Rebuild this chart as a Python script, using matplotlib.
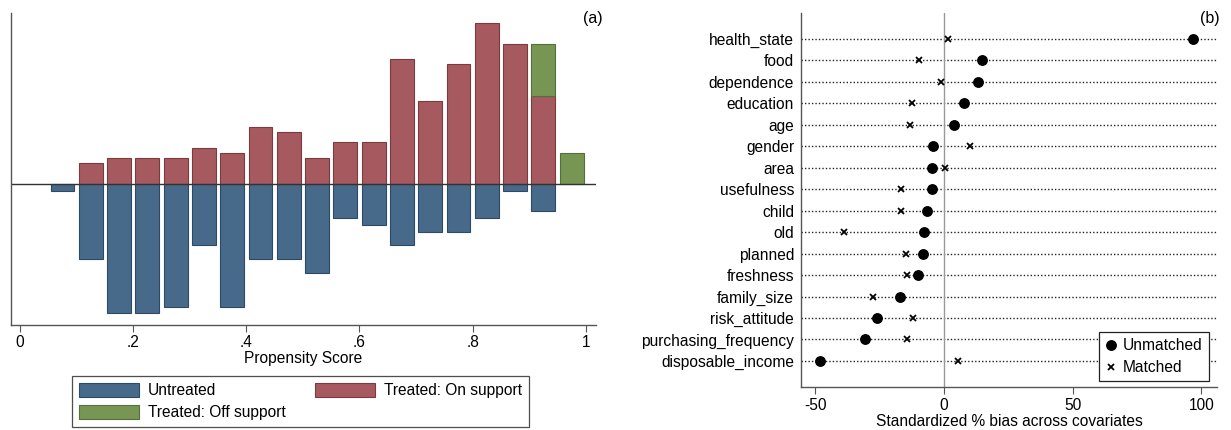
import matplotlib
matplotlib.use("Agg")
from matplotlib import pyplot as plt
from matplotlib.lines import Line2D
import numpy as np

plt.rcParams["font.family"] = ["Liberation Sans", "DejaVu Sans"]

# propensity score histogram (counts per 0.05 bin)
bin_centers = [0.075, 0.125, 0.175, 0.225, 0.275, 0.325, 0.375, 0.425, 0.475, 0.525,
               0.575, 0.625, 0.675, 0.725, 0.775, 0.825, 0.875, 0.925, 0.975]
untreated = [1, 11, 19, 19, 18, 9, 18, 11, 11, 13, 5, 6, 9, 7, 7, 5, 1, 4, 0]
treated_on = [0, 4, 5, 5, 5, 7, 6, 11, 10, 5, 8, 8, 24, 16, 23, 31, 27, 17, 0]
treated_off = [0, 0, 0, 0, 0, 0, 0, 0, 0, 0, 0, 0, 0, 0, 0, 0, 0, 10, 6]
bin_width = 0.05

# standardized % bias per covariate
covariates = ["health_state", "food", "dependence", "education", "age", "gender", "area",
              "usefulness", "child", "old", "planned", "freshness", "family_size",
              "risk_attitude", "purchasing_frequency", "disposable_income"]
bias_unmatched = [96.6, 14.6, 13.3, 7.9, 3.8, -4.2, -4.8, -4.8, -6.7, -7.6, -8.2, -10.2,
                  -17.1, -25.9, -30.8, -48.3]
bias_matched = [1.7, -9.6, -1.3, -12.3, -13.1, 10.1, 0.3, -16.7, -16.7, -38.9, -14.9,
                -14.5, -27.7, -11.9, -14.5, 5.3]

blue, blue_edge = "#476a8a", "#2c4a66"
red, red_edge = "#a65a60", "#7a3a40"
green, green_edge = "#779653", "#53703a"
fs = 11.2

fig = plt.figure(figsize=(12.31, 4.30), dpi=100)

# ---- (a) histogram ----
ax1 = fig.add_axes([0.00894, 0.2442, 0.4752, 0.7256])
x = np.array(bin_centers)
n_t = sum(treated_on) + sum(treated_off)
n_u = sum(untreated)
d_on = np.array(treated_on) / (n_t * bin_width)
d_off = np.array(treated_off) / (n_t * bin_width)
d_un = np.array(untreated) / (n_u * bin_width)
bw = 0.042
m = d_un > 0
ax1.bar(x[m], -d_un[m], width=bw, color=blue, edgecolor=blue_edge, linewidth=0.8)
m = d_on > 0
ax1.bar(x[m], d_on[m], width=bw, color=red, edgecolor=red_edge, linewidth=0.8)
m = d_off > 0
ax1.bar(x[m], d_off[m], width=bw, bottom=d_on[m], color=green, edgecolor=green_edge,
        linewidth=0.8)
ax1.axhline(0, color="#333333", linewidth=1.0)
ax1.set_xlim(-0.016, 1.018)
ax1.set_ylim(-2.378, 2.884)
ax1.set_yticks([])
ax1.set_xticks([0, 0.2, 0.4, 0.6, 0.8, 1.0])
ax1.set_xticklabels(["0", ".2", ".4", ".6", ".8", "1"], fontsize=fs)
ax1.tick_params(axis="x", length=5, color="#555555", pad=2)
ax1.set_xlabel("Propensity Score", fontsize=fs, labelpad=1)
for s in ["top", "right"]:
    ax1.spines[s].set_visible(False)
for s in ["left", "bottom"]:
    ax1.spines[s].set_color("#555555")
    ax1.spines[s].set_linewidth(1.0)
fig.text(603 / 1231, 1 - 11 / 430, "(a)", ha="right", va="top", fontsize=11.5)

handles = [plt.Rectangle((0, 0), 1, 1, facecolor=blue, edgecolor=blue_edge, linewidth=0.8),
           plt.Rectangle((0, 0), 1, 1, facecolor=green, edgecolor=green_edge, linewidth=0.8),
           plt.Rectangle((0, 0), 1, 1, facecolor=red, edgecolor=red_edge, linewidth=0.8)]
labels = ["Untreated", "Treated: Off support", "Treated: On support"]
leg = fig.legend(handles, labels, loc="upper left", ncol=2,
                 bbox_to_anchor=(72 / 1231, 1 - 376 / 430), fontsize=fs,
                 handlelength=3.86, handleheight=1.03, handletextpad=0.58,
                 columnspacing=1.85, borderpad=0.45, borderaxespad=0,
                 labelspacing=0.4, frameon=True, fancybox=False)
leg.get_frame().set_edgecolor("#222222")
leg.get_frame().set_linewidth(0.9)

# ---- (b) bias dot plot ----
ax2 = fig.add_axes([0.6507, 0.1, 0.3379, 0.8698])
rows = np.arange(1, len(covariates) + 1)
xmin, xmax = -55.6, 106.1
for r in rows:
    ax2.plot([xmin, xmax], [r, r], linestyle=(0, (1, 1.5)), color="#222222", linewidth=1.0,
             zorder=1)
ax2.axvline(0, color="#999999", linewidth=1.0, zorder=1)
ax2.plot(bias_unmatched, rows, "o", color="black", markersize=6.8, linestyle="none",
         zorder=3)
ax2.plot(bias_matched, rows, "x", color="black", markersize=4.4, markeredgewidth=1.3,
         linestyle="none", zorder=3)
ax2.set_xlim(xmin, xmax)
ax2.set_ylim(17.21, -0.19)
ax2.set_yticks(rows)
ax2.set_yticklabels(covariates, fontsize=fs)
ax2.tick_params(axis="y", length=0, pad=5)
ax2.set_xticks([-50, 0, 50, 100])
ax2.set_xticklabels(["-50", "0", "50", "100"], fontsize=fs)
ax2.tick_params(axis="x", length=5, color="#555555", pad=3)
ax2.set_xlabel("Standardized % bias across covariates", fontsize=fs, labelpad=1)
for s in ["top", "right"]:
    ax2.spines[s].set_visible(False)
for s in ["left", "bottom"]:
    ax2.spines[s].set_color("#555555")
    ax2.spines[s].set_linewidth(1.0)
fig.text(1220 / 1231, 1 - 11 / 430, "(b)", ha="right", va="top", fontsize=11.5)

mk = [Line2D([], [], marker="o", color="black", linestyle="none", markersize=6.8),
      Line2D([], [], marker="x", color="black", linestyle="none", markersize=4.4,
             markeredgewidth=1.3)]
leg2 = fig.legend(mk, ["Unmatched", "Matched"], loc="upper left",
                  bbox_to_anchor=(1099 / 1231, 1 - 332 / 430), fontsize=fs,
                  handlelength=0.7, handletextpad=0.45, borderpad=0.4,
                  borderaxespad=0, labelspacing=0.45, fancybox=False, framealpha=1)
leg2.get_frame().set_edgecolor("#222222")
leg2.get_frame().set_linewidth(0.9)

fig.savefig("out.png", dpi=100)
